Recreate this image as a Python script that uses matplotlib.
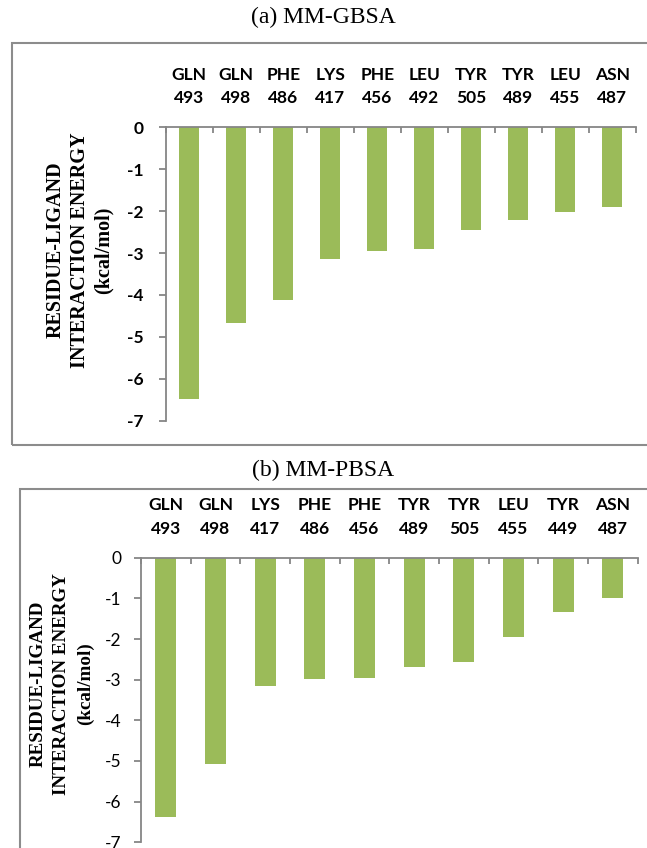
import matplotlib.pyplot as plt
from matplotlib.patches import Rectangle

# residue labels and per-residue interaction energies (kcal/mol)
gbsa_residues = ['GLN\n493', 'GLN\n498', 'PHE\n486', 'LYS\n417', 'PHE\n456',
                 'LEU\n492', 'TYR\n505', 'TYR\n489', 'LEU\n455', 'ASN\n487']
gbsa_energy = [-6.49, -4.67, -4.12, -3.15, -2.96, -2.91, -2.45, -2.21, -2.01, -1.89]

pbsa_residues = ['GLN\n493', 'GLN\n498', 'LYS\n417', 'PHE\n486', 'PHE\n456',
                 'TYR\n489', 'TYR\n505', 'LEU\n455', 'TYR\n449', 'ASN\n487']
pbsa_energy = [-6.39, -5.08, -3.16, -2.99, -2.97, -2.69, -2.57, -1.96, -1.33, -0.98]

yticks = [0, -1, -2, -3, -4, -5, -6, -7]
ylabel_lines = ['RESIDUE-LIGAND', 'INTERACTION ENERGY', '(kcal/mol)']

W, H = 647, 848
bar_color = '#9BBB59'
axis_color = '#868686'

fig = plt.figure(figsize=(W / 100, H / 100), dpi=100)


def px_axes(x0, y0, x1, y1):
    # pixel box (top-left origin) -> figure fraction axes
    return fig.add_axes([x0 / W, 1 - y1 / H, (x1 - x0) / W, (y1 - y0) / H])


def draw_panel(ax, residues, energy, tick_bold, tick_pad):
    n = len(residues)
    ax.bar(range(n), energy, width=0.42, color=bar_color, zorder=2)
    ax.set_xlim(-0.5, n - 0.5)
    ax.set_ylim(-7, 0)
    for s in ['right', 'bottom']:
        ax.spines[s].set_visible(False)
    for s in ['left', 'top']:
        ax.spines[s].set_color(axis_color)
        ax.spines[s].set_linewidth(1.3)
        ax.spines[s].set_zorder(3)

    ax.set_yticks(yticks)
    ax.set_yticklabels([str(v) for v in yticks], fontfamily='Lato',
                       fontweight='bold' if tick_bold else 'normal', fontsize=12.5)
    ax.tick_params(axis='y', direction='out', length=5, width=1.3,
                   color=axis_color, pad=tick_pad)

    ax.xaxis.set_ticks_position('top')
    ax.set_xticks(range(n))
    ax.set_xticklabels(residues, fontfamily='Lato', fontweight='bold',
                       fontsize=12.5, linespacing=1.6)
    ax.set_xticks([i - 0.5 for i in range(n + 1)], minor=True)
    ax.tick_params(axis='x', which='major', length=0, pad=15)
    ax.tick_params(axis='x', which='minor', direction='in', length=4.5,
                   width=1.3, color=axis_color, top=True, bottom=False)


def draw_ylabel(xs, yc, size):
    for x, line in zip(xs, ylabel_lines):
        fig.text(x / W, 1 - yc / H, line, rotation=90, ha='center', va='center',
                 family='Liberation Serif', fontweight='bold', fontsize=size)


# outer frames
fig.patches.append(Rectangle((12 / W, 1 - 445 / H), (660 - 12) / W, (445 - 43) / H,
                             transform=fig.transFigure, fill=False,
                             edgecolor='#8c8c8c', linewidth=1.5))
fig.patches.append(Rectangle((20 / W, 1 - 870 / H), (660 - 20) / W, (870 - 489) / H,
                             transform=fig.transFigure, fill=False,
                             edgecolor='#8c8c8c', linewidth=1.5))

# panel (a)
ax1 = px_axes(165.7, 127.3, 635.7, 420.7)
draw_panel(ax1, gbsa_residues, gbsa_energy, True, 11)
fig.text(323 / W, 1 - 17 / H, '(a) MM-GBSA', ha='center', va='center',
         family='Liberation Serif', fontsize=17)
draw_ylabel([56, 80, 104], 250, 14.5)

# panel (b)
ax2 = px_axes(141, 557.7, 637.7, 842.3)
draw_panel(ax2, pbsa_residues, pbsa_energy, False, 9)
fig.text(323 / W, 1 - 470 / H, '(b) MM-PBSA', ha='center', va='center',
         family='Liberation Serif', fontsize=17)
draw_ylabel([38, 62, 85], 684, 13.7)

fig.savefig('out.png', dpi=100)
